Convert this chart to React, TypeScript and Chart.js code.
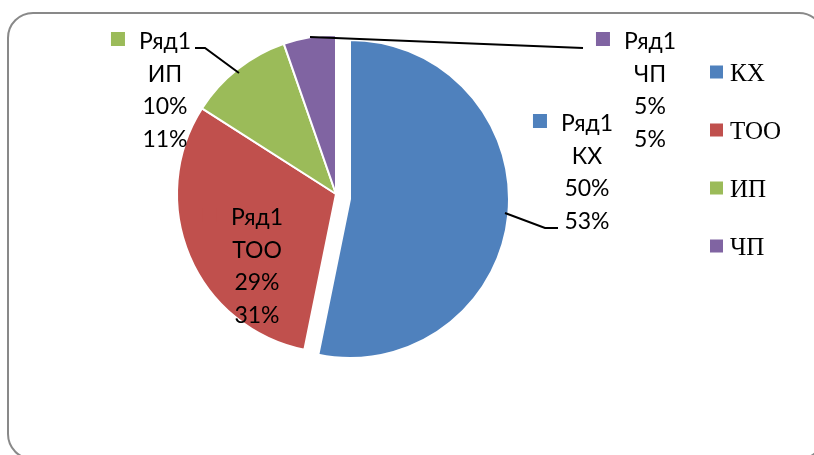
import { useEffect, useRef } from "react";
import { Chart, registerables } from "chart.js";

Chart.register(...registerables);

const seriesName = "Ряд1";
const categories = ["КХ", "ТОО", "ИП", "ЧП"];
const values = [50, 29, 10, 5];
const colors = ["#4F81BD", "#C0504D", "#9BBB59", "#8064A2"];

// label layout (relative to pie centre): text centre x, first baseline y
const labelOffsets = [
  { dx: 251, dy: -63 },
  { dx: -79, dy: 31 },
  { dx: -171, dy: -145 },
  { dx: 314, dy: -145 },
];
// leader lines (relative to pie centre)
const leaderLines: number[][][] = [
  [[169, 19], [209, 34], [222, 34]],
  [],
  [[-141, -146], [-131, -146], [-97, -121]],
  [[-26, -157], [247, -146]],
];
// exploded slice shift (px)
const explodeShift = [[14, 5], [0, 0], [0, 0], [0, 0]];

const overlay = {
  id: "overlay",
  afterUpdate(chart: any) {
    const meta = chart.getDatasetMeta(0);
    meta.data.forEach((arc: any, i: number) => {
      const s = explodeShift[i];
      arc.x += s[0];
      arc.y += s[1];
    });
  },
  beforeDraw(chart: any) {
    const ctx = chart.ctx;
    const x0 = 8, y0 = 13, x1 = 824, y1 = 459, r = 25;
    ctx.save();
    ctx.strokeStyle = "#898989";
    ctx.lineWidth = 2;
    ctx.beginPath();
    ctx.moveTo(x0 + r, y0);
    ctx.lineTo(x1 - r, y0);
    ctx.arcTo(x1, y0, x1, y0 + r, r);
    ctx.lineTo(x1, y1 - r);
    ctx.arcTo(x1, y1, x1 - r, y1, r);
    ctx.lineTo(x0 + r, y1);
    ctx.arcTo(x0, y1, x0, y1 - r, r);
    ctx.lineTo(x0, y0 + r);
    ctx.arcTo(x0, y0, x0 + r, y0, r);
    ctx.closePath();
    ctx.stroke();
    ctx.restore();
  },
  afterDraw(chart: any) {
    const ctx = chart.ctx;
    const ca = chart.chartArea;
    const cx = (ca.left + ca.right) / 2;
    const cy = (ca.top + ca.bottom) / 2;
    const total = values.reduce((a, b) => a + b, 0);
    ctx.save();
    ctx.strokeStyle = "#000";
    ctx.lineWidth = 2;
    leaderLines.forEach((pts) => {
      if (!pts.length) return;
      ctx.beginPath();
      pts.forEach((p, j) => {
        if (j === 0) ctx.moveTo(cx + p[0], cy + p[1]);
        else ctx.lineTo(cx + p[0], cy + p[1]);
      });
      ctx.stroke();
    });
    ctx.font = "23px Lato";
    ctx.textAlign = "center";
    ctx.textBaseline = "alphabetic";
    const lh = 32.5;
    categories.forEach((cat, i) => {
      const o = labelOffsets[i];
      const x = cx + o.dx;
      const y = cy + o.dy;
      const lines = [
        seriesName,
        cat,
        `${values[i]}%`,
        `${Math.round((values[i] / total) * 100)}%`,
      ];
      const w0 = ctx.measureText(seriesName).width;
      ctx.fillStyle = colors[i];
      ctx.fillRect(x - w0 / 2 - 14 - 14, y - 17, 14, 14);
      ctx.fillStyle = "#000";
      lines.forEach((t, j) => ctx.fillText(t, x, y + j * lh));
    });
    ctx.font = "25px 'Liberation Serif'";
    ctx.textAlign = "left";
    categories.forEach((cat, i) => {
      const y = 72 + i * 58;
      ctx.fillStyle = colors[i];
      ctx.fillRect(710, y - 6.5, 13, 13);
      ctx.fillStyle = "#000";
      ctx.fillText(cat, 730, y + 9);
    });
    ctx.restore();
  },
};

export default function App() {
  const ref = useRef<HTMLCanvasElement>(null);
  useEffect(() => {
    if (!ref.current) return;
    const chart = new Chart(ref.current, {
      type: "pie",
      data: {
        labels: categories,
        datasets: [
          {
            label: seriesName,
            data: values,
            backgroundColor: colors,
            borderColor: "#ffffff",
            borderWidth: 2,
          },
        ],
      },
      options: {
        responsive: false,
        animation: false,
        radius: 159,
        layout: { padding: { left: 0, right: 142, top: 0, bottom: 67 } },
        plugins: {
          legend: { display: false },
          tooltip: { enabled: false },
        },
      } as any,
      plugins: [overlay],
    });
    return () => chart.destroy();
  }, []);
  return (
    <div style={{ position: "absolute", left: 0, top: 0, width: 814, height: 455, background: "#fff" }}>
      <canvas ref={ref} width={814} height={455} style={{ display: "block" }} />
    </div>
  );
}
